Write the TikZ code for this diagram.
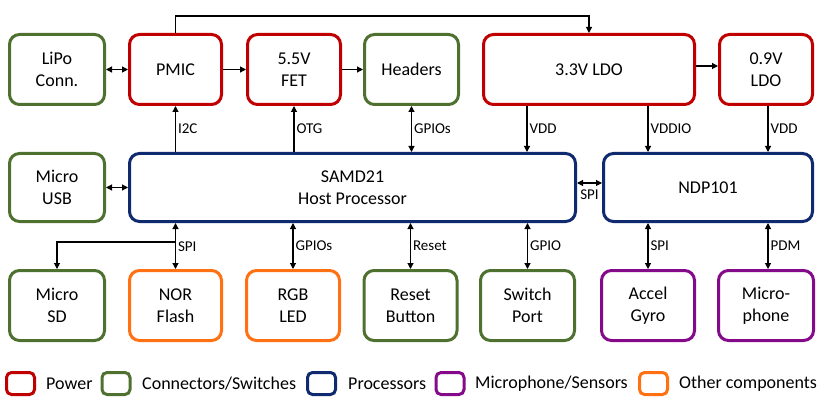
\documentclass[tikz,border=0pt]{standalone}
\usepackage{fontspec}
\setmainfont{Carlito}
\usetikzlibrary{arrows.meta}
\definecolor{cpower}{HTML}{C00000}
\definecolor{cconn}{HTML}{4E7130}
\definecolor{cproc}{HTML}{0F2A6E}
\definecolor{csens}{HTML}{850A8A}
\definecolor{cother}{HTML}{FF7112}
\tikzset{
  blk/.style={draw, line width=3pt, rounded corners=10pt, inner sep=0pt, align=center,
    font=\fontsize{18}{22}\selectfont, fill=white},
  pw/.style={blk, draw=cpower},
  cn/.style={blk, draw=cconn},
  pr/.style={blk, draw=cproc},
  sn/.style={blk, draw=csens},
  ot/.style={blk, draw=cother},
  wire/.style={line width=1.1pt, black},
  tip/.style={-{Triangle[length=6pt,width=6pt]}},
  dtip/.style={{Triangle[length=6pt,width=6pt]}-{Triangle[length=6pt,width=6pt]}},
  lbl/.style={font=\fontsize{15}{18}\selectfont, inner sep=2pt},
  legsq/.style={draw, line width=3pt, rounded corners=5pt, minimum width=28pt, minimum height=22pt, inner sep=0pt},
  legtx/.style={font=\fontsize{18}{22}\selectfont, inner sep=0pt, anchor=west}
}
\begin{document}
\begin{tikzpicture}[x=1pt,y=-1pt]
\useasboundingbox (0,0) rectangle (824,406);
% top row
\node[cn, minimum width=95pt, minimum height=70pt] (lipo) at (57,69.5) {LiPo\\Conn.};
\node[pw, minimum width=92pt, minimum height=70pt] (pmic) at (175.5,69.5) {PMIC};
\node[pw, minimum width=93pt, minimum height=70pt] (fet) at (294,69.5) {5.5V\\FET};
\node[cn, minimum width=94pt, minimum height=70pt] (head) at (411.5,69.5) {Headers};
\node[pw, minimum width=211pt, minimum height=70pt] (ldo33) at (589,69.5) {3.3V LDO};
\node[pw, minimum width=93pt, minimum height=70pt] (ldo09) at (766,69.5) {0.9V\\LDO};
% middle row
\node[cn, minimum width=95pt, minimum height=68pt] (usb) at (57,187.5) {Micro\\USB};
\node[pr, minimum width=446pt, minimum height=68pt] (samd) at (352.5,187.5) {SAMD21\\Host Processor};
\node[pr, minimum width=209pt, minimum height=68pt] (ndp) at (708,187.5) {NDP101};
% bottom row
\node[cn, minimum width=95pt, minimum height=70pt] (sd) at (57,305.5) {Micro\\SD};
\node[ot, minimum width=92pt, minimum height=70pt] (nor) at (175.5,305.5) {NOR\\Flash};
\node[ot, minimum width=93pt, minimum height=70pt] (rgb) at (293,305.5) {RGB\\LED};
\node[cn, minimum width=93pt, minimum height=70pt] (rst) at (410.5,305.5) {Reset\\Button};
\node[cn, minimum width=94pt, minimum height=70pt] (sw) at (527.5,305.5) {Switch\\Port};
\node[sn, minimum width=93pt, minimum height=70pt] (acc) at (648,305.5) {Accel\\Gyro};
\node[sn, minimum width=95pt, minimum height=70pt] (mic) at (766,305.5) {Micro-\\phone};
% coordinates
\coordinate (topy) at (0,16);
\coordinate (vddx) at (527,0);
\coordinate (vddiox) at (648,0);
\coordinate (vdd2x) at (768,0);
\coordinate (spiy) at (0,242);
% top row horizontal
\draw[wire, dtip] (lipo.east) -- (pmic.west);
\draw[wire, tip] (pmic.east) -- (fet.west);
\draw[wire, tip] (fet.east) -- (head.west);
\draw[wire, tip] (ldo33.east |- 0,66) -- (ldo09.west |- 0,66);
\draw[wire, tip] (pmic.north) -- (pmic.north |- topy) -- (ldo33.north |- topy) -- (ldo33.north);
% middle verticals
\draw[wire, tip] (samd.north -| pmic) -- (pmic.south) node[lbl, midway, right] {I2C};
\draw[wire, tip] (samd.north -| fet) -- (fet.south) node[lbl, midway, right] {OTG};
\draw[wire, dtip] (samd.north -| head) -- (head.south) node[lbl, midway, right] {GPIOs};
\draw[wire, tip] (ldo33.south -| vddx) -- (samd.north -| vddx) node[lbl, midway, right] {VDD};
\draw[wire, tip] (ldo33.south -| vddiox) -- (ndp.north -| vddiox) node[lbl, midway, right] {VDDIO};
\draw[wire, tip] (ldo09.south -| vdd2x) -- (ndp.north -| vdd2x) node[lbl, midway, right] {VDD};
% middle horizontals
\draw[wire, dtip] (usb.east) -- (samd.west |- usb.east);
\draw[wire, dtip] (samd.east |- 0,183) -- (ndp.west |- 0,183);
\node[lbl] (spilbl) at (589.5,195) {SPI};
% bottom verticals
\draw[wire, dtip] (samd.south -| nor) -- (nor.north) node[lbl, pos=0.52, right] {SPI};
\draw[wire, tip] (nor.north |- spiy) -- (sd.north |- spiy) -- (sd.north);
\draw[wire, dtip] (samd.south -| rgb) -- (rgb.north) node[lbl, midway, right] {GPIOs};
\draw[wire, dtip] (samd.south -| rst) -- (rst.north) node[lbl, midway, right] {Reset};
\draw[wire, dtip] (samd.south -| sw) -- (sw.north) node[lbl, midway, right] {GPIO};
\draw[wire, dtip] (ndp.south -| acc) -- (acc.north) node[lbl, midway, right] {SPI};
\draw[wire, dtip] (ndp.south -| vdd2x) -- (mic.north -| vdd2x) node[lbl, midway, right] {PDM};
% legend
\node[legsq, draw=cpower] (l1) at (20.5,383.5) {};
\node[legtx] (t1) at (46,384) {Power};
\node[legsq, draw=cconn] (l2) at (116,383.5) {};
\node[legtx] (t2) at (142,384) {Connectors/Switches};
\node[legsq, draw=cproc] (l3) at (321.5,383.5) {};
\node[legtx] (t3) at (348,384) {Processors};
\node[legsq, draw=csens] (l4) at (450,383.5) {};
\node[legtx] (t4) at (475,384) {Microphone/Sensors};
\node[legsq, draw=cother] (l5) at (653.5,383.5) {};
\node[legtx] (t5) at (679,384) {Other components};
\end{tikzpicture}
\end{document}
